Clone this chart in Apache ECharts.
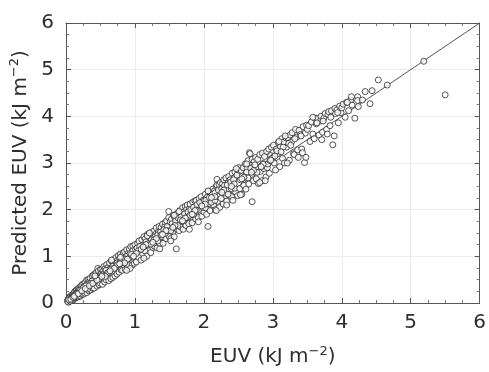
<!DOCTYPE html>
<html><head><meta charset="utf-8">
<script src="https://cdn.jsdelivr.net/npm/echarts@6/dist/echarts.min.js"></script>
<style>html,body{margin:0;padding:0;background:#fff}#c{width:489px;height:372px}</style>
</head><body><div id="c"></div>
<script>
// Observed EUV (x) and predicted EUV (y), kJ m^-2
const observed = [
0.02,0.03,0.04,0.05,0.05,0.06,0.07,0.08,0.08,0.09,
0.10,0.11,0.12,0.12,0.13,0.14,0.15,0.15,0.16,0.17,
0.18,0.19,0.20,0.20,0.21,0.22,0.23,0.24,0.24,0.25,
0.26,0.27,0.28,0.29,0.30,0.30,0.31,0.32,0.33,0.34,
0.35,0.36,0.37,0.38,0.39,0.40,0.40,0.41,0.42,0.43,
0.44,0.45,0.46,0.46,0.47,0.48,0.49,0.50,0.50,0.03,
0.06,0.09,0.11,0.14,0.17,0.19,0.22,0.27,0.33,0.38,
0.04,0.07,0.10,0.13,0.16,0.21,0.25,0.29,0.36,0.44,
0.51,0.52,0.53,0.54,0.55,0.56,0.57,0.58,0.59,0.60,
0.61,0.62,0.63,0.64,0.65,0.66,0.67,0.68,0.69,0.70,
0.71,0.72,0.73,0.74,0.75,0.76,0.77,0.78,0.79,0.80,
0.81,0.82,0.83,0.84,0.85,0.86,0.87,0.88,0.89,0.90,
0.91,0.92,0.93,0.94,0.95,0.96,0.97,0.98,0.99,1.00,
0.55,0.63,0.68,0.74,0.79,0.84,0.88,0.93,0.97,0.58,
0.53,0.60,0.66,0.72,0.77,0.82,0.86,0.91,0.95,0.99,
1.01,1.02,1.04,1.05,1.06,1.08,1.09,1.10,1.12,1.13,
1.14,1.15,1.17,1.18,1.19,1.21,1.22,1.23,1.25,1.26,
1.27,1.28,1.30,1.31,1.32,1.34,1.35,1.36,1.38,1.39,
1.40,1.41,1.43,1.44,1.45,1.46,1.48,1.49,1.49,1.50,
1.03,1.11,1.16,1.24,1.29,1.33,1.37,1.42,1.47,1.07,
1.05,1.09,1.14,1.19,1.23,1.28,1.33,1.38,1.44,1.47,
1.51,1.52,1.53,1.55,1.56,1.57,1.58,1.60,1.60,1.61,
1.62,1.64,1.65,1.66,1.68,1.69,1.70,1.71,1.73,1.74,
1.75,1.76,1.78,1.79,1.80,1.82,1.83,1.84,1.86,1.87,
1.88,1.89,1.91,1.92,1.93,1.95,1.96,1.97,1.99,2.00,
1.54,1.59,1.63,1.67,1.72,1.77,1.81,1.85,1.90,1.94,
1.52,1.57,1.62,1.66,1.71,1.76,1.80,1.85,1.89,1.98,
2.01,2.02,2.04,2.05,2.06,2.07,2.09,2.10,2.11,2.13,
2.14,2.15,2.17,2.18,2.19,2.19,2.20,2.22,2.23,2.24,
2.25,2.27,2.28,2.29,2.31,2.32,2.33,2.35,2.36,2.37,
2.38,2.40,2.41,2.42,2.44,2.45,2.46,2.48,2.49,2.50,
2.03,2.08,2.12,2.16,2.21,2.26,2.30,2.34,2.39,2.43,
2.02,2.07,2.11,2.16,2.21,2.25,2.30,2.35,2.40,2.45,
2.51,2.52,2.54,2.55,2.57,2.58,2.60,2.61,2.63,2.64,
2.65,2.66,2.67,2.69,2.70,2.70,2.72,2.73,2.75,2.76,
2.78,2.79,2.81,2.82,2.84,2.85,2.87,2.88,2.90,2.91,
2.92,2.94,2.95,2.97,2.98,3.00,2.56,2.62,2.68,2.74,
2.53,2.59,2.64,2.71,2.77,2.83,2.86,2.93,2.96,2.99,
3.01,3.02,3.04,3.05,3.07,3.08,3.10,3.11,3.13,3.14,
3.16,3.17,3.19,3.20,3.22,3.24,3.25,3.27,3.28,3.30,
3.31,3.33,3.35,3.36,3.38,3.40,3.42,3.44,3.46,3.47,
3.48,3.49,3.50,3.06,3.15,3.23,3.32,3.41,
3.52,3.54,3.56,3.58,3.60,3.61,3.63,3.65,3.67,3.69,
3.70,3.72,3.74,3.76,3.78,3.80,3.81,3.83,3.85,3.87,
3.89,3.90,3.91,3.93,3.95,3.97,3.99,4.00,4.02,4.05,
4.07,4.10,4.13,4.15,4.19,3.64,3.73,3.84,3.94,
4.14,4.23,4.23,4.24,4.34,4.41,4.44,4.53,4.66,5.19,5.50,4.08,4.30,
0.31,0.48,0.62,0.75,0.89,1.02,1.16,1.31,1.45,1.58,
1.73,1.87,2.02,2.16,2.29,2.44,2.58,2.72,2.86,3.03,
0.57,0.70,0.85,0.98,1.12,1.26,1.40,1.55,1.69,1.83,
1.97,2.11,2.26,2.40,2.55,2.69,2.83,2.97,3.12,3.26,
0.12,0.18,0.23,0.28,0.34,0.39,0.45,0.52,0.64,0.78,
0.66,0.93,1.18,1.36,1.57,1.79,2.06,2.33,2.62,2.89,
3.09,3.37,3.58,3.79,0.42,0.79,1.21,1.64,2.47,3.18,
0.88,1.13,1.52,1.92,2.18,2.53,2.81,3.21,3.43,3.71
];
const predicted = [
0.05,0.08,0.02,0.12,0.04,0.14,0.05,0.17,0.06,0.15,
0.18,0.07,0.22,0.10,0.25,0.11,0.27,0.12,0.29,0.13,
0.31,0.14,0.34,0.20,0.15,0.37,0.18,0.40,0.27,0.19,
0.41,0.21,0.44,0.33,0.49,0.22,0.40,0.50,0.26,0.47,
0.53,0.28,0.46,0.58,0.31,0.60,0.44,0.32,0.63,0.49,
0.65,0.36,0.74,0.56,0.69,0.39,0.60,0.72,0.42,0.02,
0.04,0.13,0.15,0.20,0.23,0.28,0.27,0.36,0.41,0.47,
0.07,0.08,0.12,0.17,0.20,0.28,0.33,0.37,0.42,0.53,
0.62,0.72,0.40,0.68,0.78,0.45,0.74,0.50,0.82,0.64,
0.76,0.48,0.86,0.72,0.52,0.90,0.75,0.55,0.93,0.80,
0.58,0.97,0.86,0.62,0.92,1.02,0.66,0.96,1.05,0.71,
1.00,0.70,1.07,0.90,1.10,0.72,0.99,1.14,0.76,1.06,
0.80,1.16,0.98,1.21,1.03,0.81,1.22,1.10,0.85,1.25,
0.63,0.72,0.79,0.86,0.88,0.96,1.00,1.06,1.12,0.70,
0.60,0.64,0.73,0.77,0.84,0.88,0.94,0.95,1.04,1.01,
1.15,0.88,1.28,0.98,1.33,1.16,0.92,1.36,1.18,1.42,
1.12,1.38,1.00,1.47,1.24,1.40,1.50,1.08,1.45,1.19,
1.54,1.22,1.47,1.61,1.18,1.52,1.64,1.28,1.62,1.42,
1.69,1.28,1.63,1.73,1.38,1.76,1.60,1.83,1.96,1.42,
1.18,1.24,1.31,1.36,1.42,1.46,1.52,1.57,1.64,1.21,
1.12,1.15,1.22,1.27,1.26,1.36,1.33,1.46,1.49,1.55,
1.74,1.38,1.80,1.52,1.88,1.42,1.83,1.16,1.90,1.58,
1.93,1.55,1.98,1.63,1.86,2.04,1.58,1.95,2.07,1.66,
2.01,2.10,1.70,2.02,2.12,1.84,1.72,2.16,2.05,2.19,
1.80,2.20,2.10,1.83,2.24,2.13,2.28,1.86,2.20,1.95,
1.70,1.76,1.82,1.85,1.91,1.95,2.00,2.05,2.11,2.15,
1.55,1.64,1.66,1.78,1.76,1.84,1.88,1.90,1.99,2.05,
2.20,2.33,1.90,2.27,1.64,2.38,1.98,2.36,2.10,2.44,
2.10,2.40,2.00,2.50,2.65,2.53,2.18,2.54,2.05,2.58,
2.43,2.56,2.12,2.64,2.30,2.68,2.18,2.58,2.71,2.32,
2.64,2.28,2.78,2.20,2.68,2.81,2.38,2.74,2.30,2.85,
2.20,2.26,2.33,2.36,2.42,2.45,2.52,2.53,2.59,2.64,
2.04,2.13,2.16,2.20,2.28,2.24,2.36,2.33,2.45,2.46,
2.90,2.45,2.84,2.33,2.90,2.52,2.98,2.44,2.88,3.05,
2.55,3.22,3.20,2.90,2.17,3.08,2.62,3.03,3.12,2.66,
3.08,2.56,3.18,2.82,2.62,3.21,2.88,3.14,2.70,3.25,
2.90,3.30,2.78,3.16,3.34,3.12,2.72,2.80,2.88,2.96,
2.64,2.70,2.68,2.82,2.80,2.93,2.99,2.98,3.05,3.10,
3.38,3.00,2.85,3.30,3.20,3.44,2.92,3.35,3.52,3.10,
3.45,3.00,3.54,3.34,3.54,3.06,3.60,3.45,3.65,3.20,
3.18,3.72,3.56,3.28,3.70,3.61,3.30,3.78,3.01,3.64,
3.12,3.81,3.72,3.26,3.34,3.42,3.52,3.58,
3.80,3.46,3.88,3.62,3.52,3.96,3.84,3.95,3.60,3.90,
4.00,3.66,3.96,4.06,3.72,4.04,4.10,3.80,4.12,3.39,
3.58,4.17,4.06,4.14,3.86,4.22,4.08,4.18,4.26,3.98,
4.30,4.12,4.35,4.24,3.96,3.86,3.90,3.98,4.08,
4.42,4.42,4.34,4.21,4.53,4.27,4.55,4.78,4.67,5.18,4.46,4.30,4.35,
0.30,0.52,0.66,0.82,0.94,1.06,1.25,1.38,1.55,1.66,
1.82,1.98,2.12,2.28,2.42,2.55,2.69,2.84,2.97,3.15,
0.57,0.74,0.86,1.00,1.20,1.30,1.47,1.62,1.76,1.90,
2.08,2.26,2.37,2.50,2.66,2.80,2.92,3.06,3.24,3.38,
0.14,0.20,0.26,0.31,0.37,0.42,0.49,0.57,0.69,0.84,
0.92,0.74,1.44,1.16,1.88,1.58,2.40,2.10,2.98,2.62,
3.46,3.12,3.98,3.62,0.58,0.98,1.50,1.96,2.88,3.58,
0.70,0.96,1.33,1.74,1.98,2.32,2.58,3.00,3.22,3.50
];
const lineX = [0, 6];
const lineY = [0, 6];
const ticks = [0, 1, 2, 3, 4, 5, 6];

const font = '"DejaVu Sans", "Liberation Sans", sans-serif';
const textColor = '#2e2e2e';
const pts = observed.map((x, i) => [x, predicted[i]]);
const linePts = lineX.map((x, i) => [x, lineY[i]]);

const axisBase = {
  type: 'value', min: ticks[0], max: ticks[ticks.length - 1], interval: 1,
  axisLine: { show: true, onZero: false, lineStyle: { color: '#555', width: 1 } },
  axisTick: { show: true, inside: true, length: 5, lineStyle: { color: '#555' } },
  minorTick: { show: true, splitNumber: 4, length: 3, lineStyle: { color: '#777' } },
};
const nameRich = {
  a: { fontSize: 20, color: textColor, fontFamily: font, lineHeight: 24 },
  s: { fontSize: 13, color: textColor, fontFamily: font, lineHeight: 14, verticalAlign: 'top' }
};

const chart = echarts.init(document.getElementById('c'), null, { renderer: 'canvas' });
chart.setOption({
  animation: false,
  backgroundColor: '#fff',
  grid: { left: 66, right: 3, top: 23, bottom: 64, containLabel: false },
  xAxis: [
    Object.assign({}, axisBase, {
      position: 'bottom',
      name: '{a|EUV (kJ m}{s|−2}{a|)}', nameLocation: 'middle', nameGap: 42,
      nameTextStyle: { rich: nameRich },
      axisLabel: { fontSize: 20, color: textColor, fontFamily: font, margin: 10 },
      splitLine: { show: true, lineStyle: { color: '#ececec', width: 1 } }
    }),
    Object.assign({}, axisBase, {
      position: 'top', axisLabel: { show: false }, splitLine: { show: false }
    })
  ],
  yAxis: [
    Object.assign({}, axisBase, {
      position: 'left',
      name: '{a|Predicted EUV (kJ m}{s|−2}{a|)}', nameLocation: 'middle', nameGap: 32,
      nameTextStyle: { rich: nameRich },
      axisLabel: { fontSize: 20, color: textColor, fontFamily: font, margin: 12 },
      splitLine: { show: true, lineStyle: { color: '#ececec', width: 1 } }
    }),
    Object.assign({}, axisBase, {
      position: 'right', axisLabel: { show: false }, splitLine: { show: false }
    })
  ],
  series: [
    {
      type: 'line', data: linePts, symbol: 'none', silent: true,
      lineStyle: { color: '#555', width: 1 }, z: 1
    },
    {
      type: 'scatter', data: pts, symbol: 'circle', symbolSize: 6,
      itemStyle: { color: '#fff', borderColor: '#2a2a2a', borderWidth: 1 }, z: 2
    }
  ]
});
</script>
</body></html>
